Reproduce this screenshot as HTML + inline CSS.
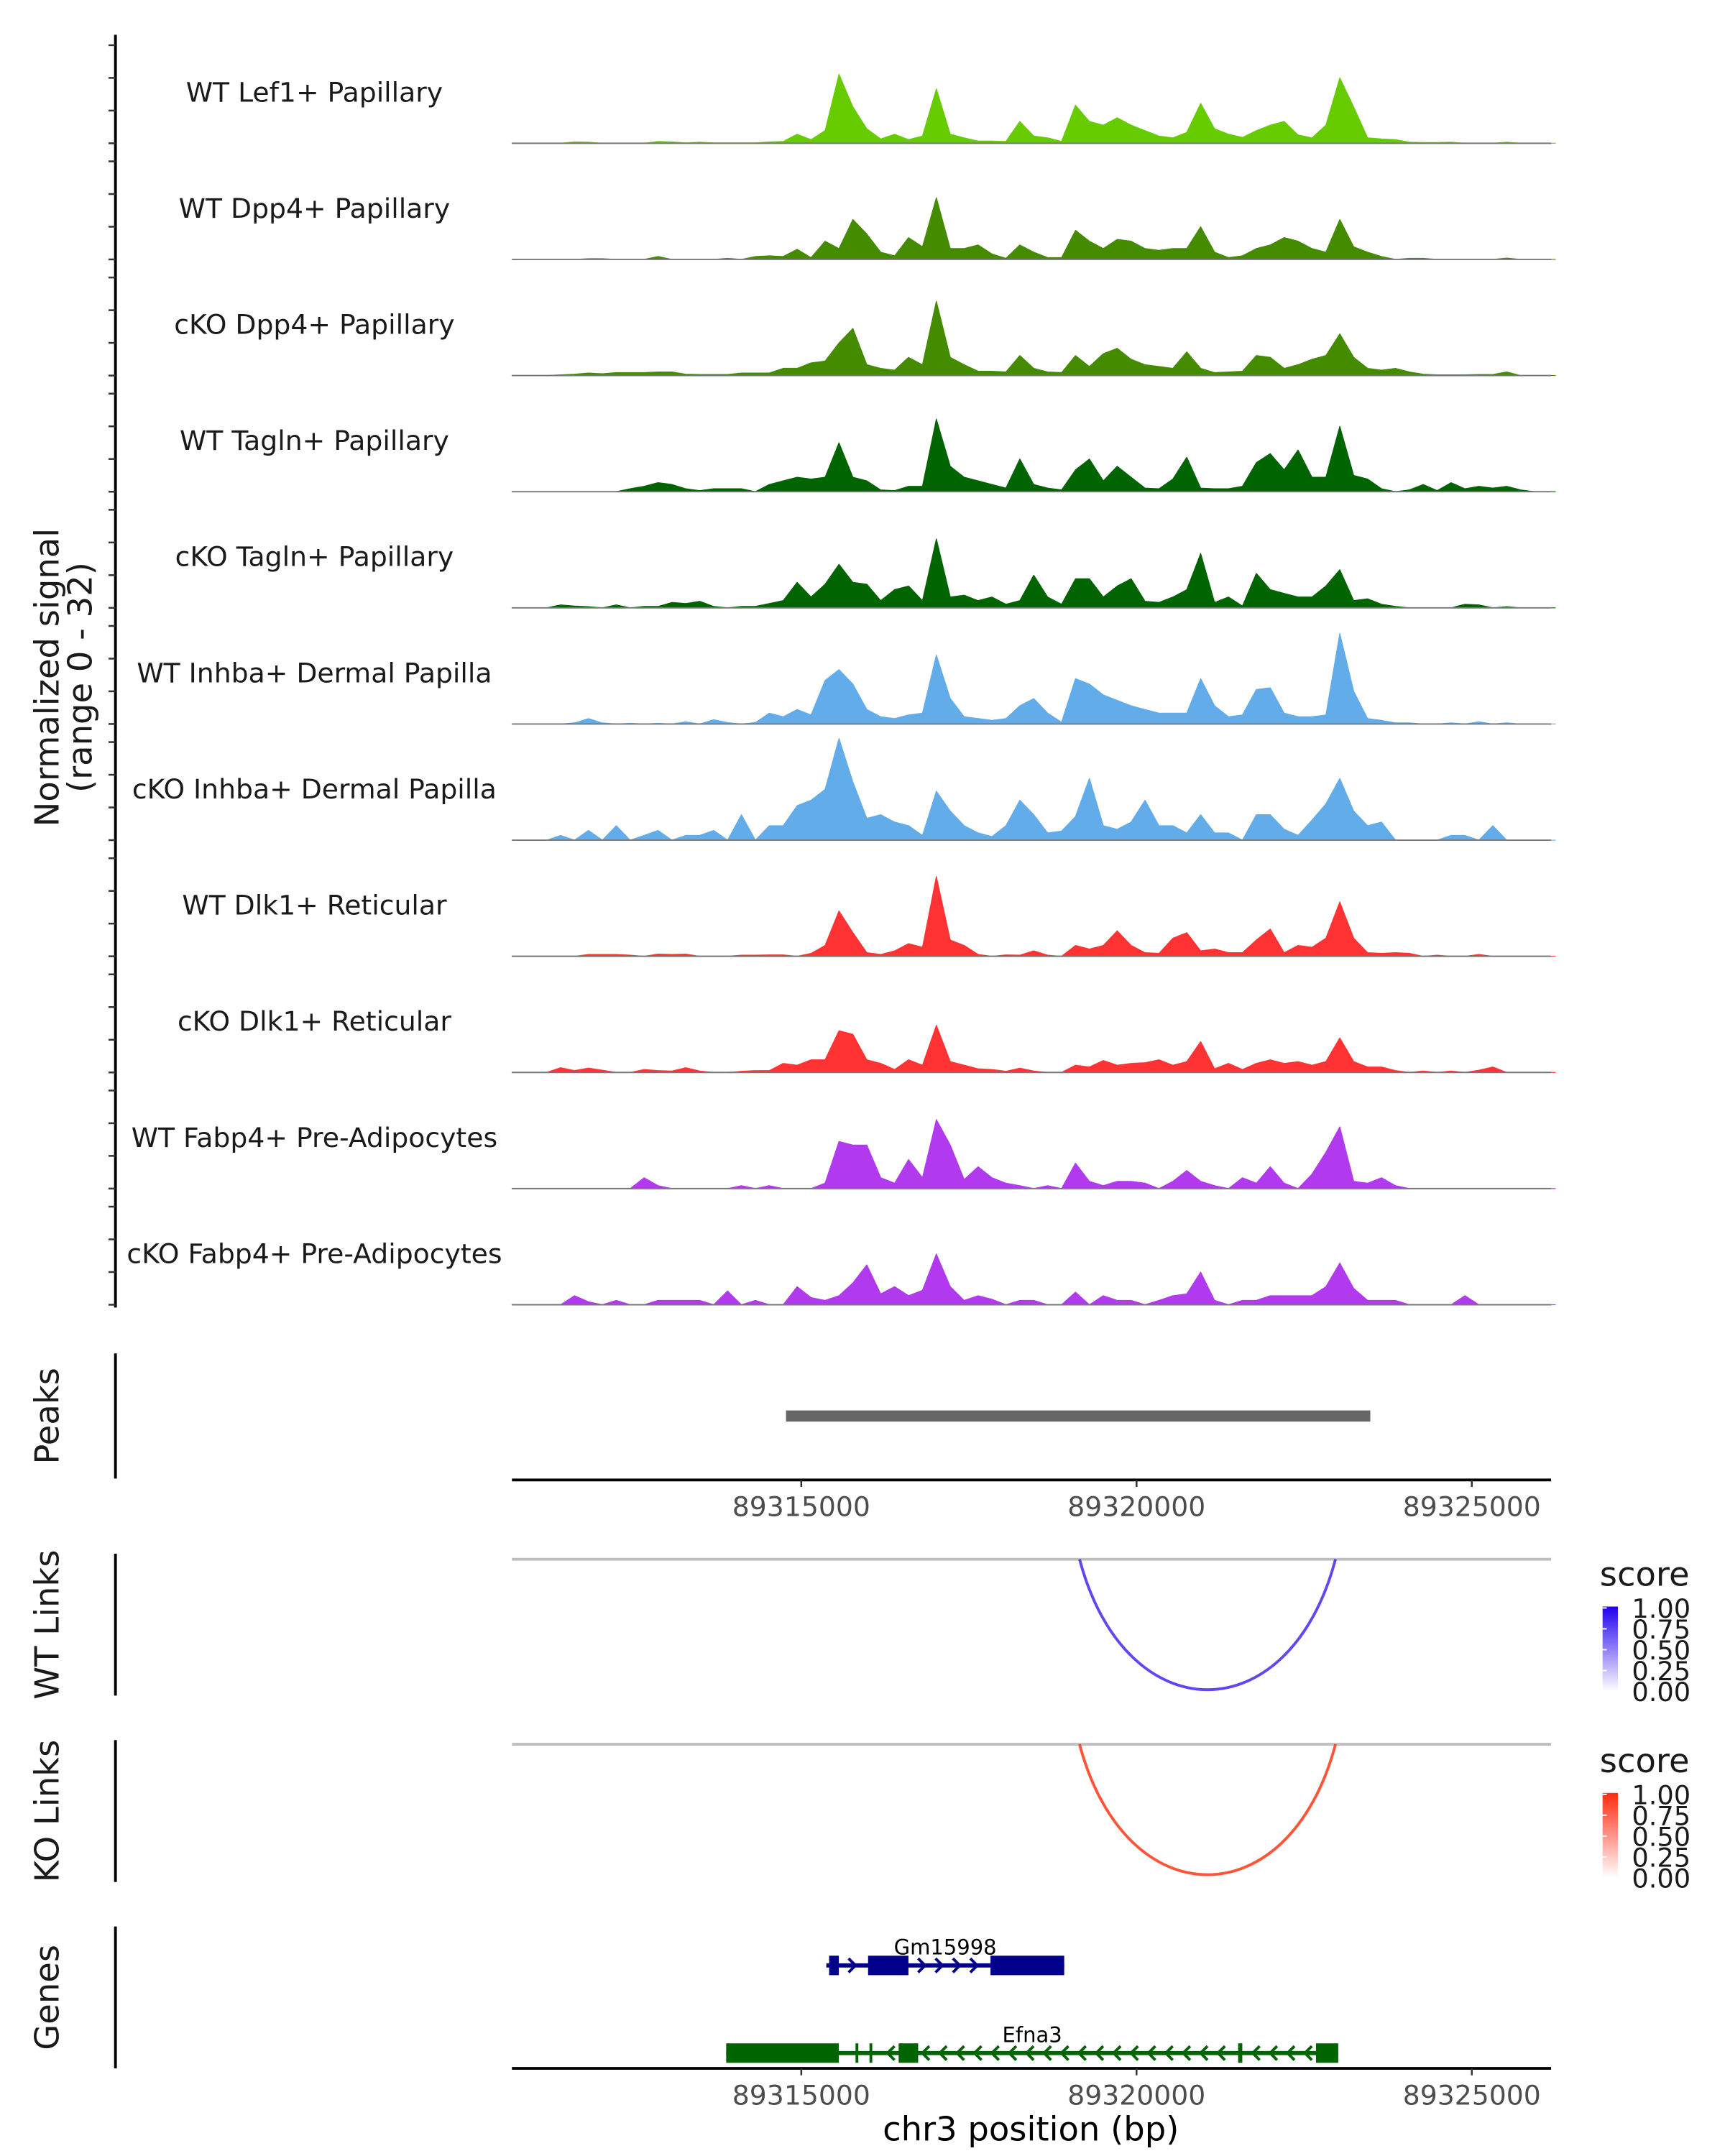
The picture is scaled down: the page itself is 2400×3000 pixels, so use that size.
<!DOCTYPE html>
<html><head><meta charset="utf-8"><style>
html,body{margin:0;padding:0;background:#fff;}
svg{display:block;font-family:"DejaVu Sans","Liberation Sans",sans-serif;}
</style></head><body>
<svg id="chart" xmlns="http://www.w3.org/2000/svg" width="2400" height="3000" viewBox="0 0 1240 1550">
<defs>
<linearGradient id="gBlue" x1="0" y1="1" x2="0" y2="0"><stop offset="0" stop-color="#ffffff"/><stop offset="1" stop-color="#2200ee"/></linearGradient>
<linearGradient id="gRed" x1="0" y1="1" x2="0" y2="0"><stop offset="0" stop-color="#ffffff"/><stop offset="1" stop-color="#ff2a10"/></linearGradient>
</defs>
<g id="tracks"></g>
<g id="static">
<text transform="translate(42,487) rotate(-90)" text-anchor="middle" font-size="24" fill="#1a1a1a">Normalized signal</text>
<text transform="translate(66,487) rotate(-90)" text-anchor="middle" font-size="24" fill="#1a1a1a">(range 0 - 32)</text>
<text transform="translate(42,1018) rotate(-90)" text-anchor="middle" font-size="24" fill="#1a1a1a">Peaks</text>
<text transform="translate(42,1168) rotate(-90)" text-anchor="middle" font-size="24" fill="#1a1a1a">WT Links</text>
<text transform="translate(42,1302) rotate(-90)" text-anchor="middle" font-size="24" fill="#1a1a1a">KO Links</text>
<text transform="translate(42,1436) rotate(-90)" text-anchor="middle" font-size="24" fill="#1a1a1a">Genes</text>
<line x1="83" y1="973" x2="83" y2="1063" stroke="#000" stroke-width="2"/>
<line x1="83" y1="1117" x2="83" y2="1219" stroke="#000" stroke-width="2"/>
<line x1="83" y1="1251" x2="83" y2="1353" stroke="#000" stroke-width="2"/>
<line x1="83" y1="1385" x2="83" y2="1487" stroke="#000" stroke-width="2"/>
<line x1="83" y1="25" x2="83" y2="940" stroke="#000" stroke-width="2"/>
<text x="1150" y="1140" font-size="24" fill="#1a1a1a">score</text>
<rect x="1152" y="1155" width="11" height="61" fill="url(#gBlue)"/>
<text x="1150" y="1274" font-size="24" fill="#1a1a1a">score</text>
<rect x="1152" y="1289" width="11" height="61" fill="url(#gRed)"/>
<text x="741" y="1539" text-anchor="middle" font-size="24" fill="#000">chr3 position (bp)</text>
</g>
</svg>
<script>
const binStart = 89310685;
const binSize = 207.5;
const trackNames = ["WT Lef1+ Papillary","WT Dpp4+ Papillary","cKO Dpp4+ Papillary","WT Tagln+ Papillary","cKO Tagln+ Papillary","WT Inhba+ Dermal Papilla","cKO Inhba+ Dermal Papilla","WT Dlk1+ Reticular","cKO Dlk1+ Reticular","WT Fabp4+ Pre-Adipocytes","cKO Fabp4+ Pre-Adipocytes"];
const trackColors = ["#66cc00","#458b00","#458b00","#006400","#006400","#63acea","#63acea","#ff3333","#ff3333","#b23aee","#b23aee"];
const sigLef1WT = {4:0.4,5:0.3,10:0.5,11:0.4,12:0.1,13:0.3,14:0.1,15:0.1,16:0.1,17:0.1,18:0.4,19:0.5,20:2.5,21:1,22:3.5,23:19,24:10,25:4,26:1.2,27:2.5,28:1,29:2,30:15,31:2.5,32:1.5,33:0.6,34:0.6,35:0.5,36:6,37:2,38:1.5,39:0.5,40:10.5,41:6,42:5,43:7,44:5,45:3.5,46:2,47:1.5,48:3,49:11,50:4,51:2.5,52:1.6,53:3.5,54:5,55:6,56:2.3,57:1.5,58:5,59:18,60:10,61:1.5,62:1.2,63:1,64:0.3,65:0.2,66:0.2,67:0.3,71:0.3};
const sigDpp4WT = {5:0.2,6:0.2,10:0.8,15:0.3,17:0.8,18:1,19:0.8,20:2.8,21:0.5,22:5,23:3,24:11,25:7,26:2,27:1,28:6,29:3.5,30:17,31:3,32:3,33:4,34:1.5,35:0.3,36:4,37:2,38:0.5,39:0.5,40:8,41:5,42:3,43:5.5,44:5,45:3,46:2.5,47:3,48:3,49:9,50:2,51:0.5,52:1,53:3,54:4,55:6,56:5,57:3,58:2,59:11,60:3.5,61:2,62:0.8,64:0.3,65:0.3,71:0.4};
const sigDpp4KO = {3:0.2,4:0.4,5:0.7,6:0.5,7:0.8,8:0.8,9:0.8,10:1,11:1,12:0.4,13:0.3,14:0.3,15:0.3,16:0.7,17:0.7,18:0.7,19:2,20:2,21:3.5,22:4,23:9,24:13,25:3,26:2,27:1.5,28:5,29:3,30:20.5,31:5,32:3,33:1.2,34:1.2,35:1,36:5.5,37:2,38:1,39:0.8,40:5.5,41:2.5,42:6,43:7.5,44:4.5,45:3,46:2.5,47:2,48:6.5,49:2,50:0.8,51:1,52:1.2,53:5.5,54:5,55:2,56:3,57:4.5,58:5.5,59:11.5,60:5,61:2,62:1.5,63:2,64:1,65:0.4,66:0.2,67:0.2,68:0.2,69:0.3,70:0.3,71:1};
const sigTaglnWT = {8:0.8,9:1.5,10:2.5,11:2,12:0.8,13:0.3,14:0.8,15:0.8,16:0.8,18:2,19:3,20:4,21:3.5,22:4,23:13.5,24:4,25:3,26:0.5,27:0.3,28:1.5,29:1.5,30:20,31:7,32:4,33:3,34:2,35:1,36:9,37:2,38:1,39:0.5,40:6,41:9,42:3,43:7,44:4,45:1,46:0.8,47:3.5,48:9.5,49:1,50:0.8,51:0.8,52:1.5,53:8,54:10.5,55:6,56:11.5,57:4,58:4,59:18,60:4.5,61:3.5,62:0.8,64:0.5,65:2,66:0.3,67:2.5,68:0.8,69:1.5,70:1,71:1.5,72:0.5};
const sigTaglnKO = {3:0.8,4:0.5,5:0.3,7:0.8,9:0.4,10:0.4,11:1.5,12:1.2,13:1.8,14:0.4,16:0.4,17:0.4,18:1.2,19:2,20:7,21:3,22:6.5,23:12,24:7,25:6.5,26:2,27:5,28:6,29:2,30:19,31:3,32:3.5,33:2,34:3,35:1,36:2,37:9,38:3,39:1,40:8,41:8,42:3,43:6,44:8,45:1.8,46:1.5,47:3,48:5,49:15,50:1.5,51:3,52:0.5,53:9.5,54:5,55:4,56:3,57:3,58:6,59:10.5,60:2,61:2.5,62:1,63:0.4,68:1,69:0.8,71:0.3};
const sigInhbaWT = {4:0.3,5:1.5,6:0.3,8:0.2,10:0.2,12:0.6,14:1.2,15:0.4,17:0.4,18:3,19:2,20:4,21:2.5,22:12,23:15,24:11,25:4,26:2,27:1.5,28:2.5,29:3,30:19,31:7,32:2,33:1.5,34:1,35:1.5,36:5,37:7,38:3,39:0.5,40:12.5,41:11,42:8,43:6.5,44:5,45:4,46:3,47:3,48:3,49:12.5,50:5,51:2,52:2.5,53:9.5,54:10,55:3,56:2,57:2,58:2.5,59:25,60:9,61:1.5,62:1,63:0.3,64:0.3,67:0.3,69:0.6,71:0.3};
const sigInhbaKO = {3:1.3,5:2.7,7:4,9:1.3,10:2.7,12:1.3,13:1.3,14:2.7,16:7,18:4,19:4,20:9.5,21:11,22:14,23:28,24:16,25:6,26:7,27:5,28:4,29:1.3,30:13.5,31:8,32:4,33:2,34:1,35:4,36:11,37:7,38:2,39:2.5,40:6.5,41:17,42:4,43:3,44:5,45:11,46:4,47:4,48:2,49:7,50:2,51:2,53:7,54:7,55:3,56:1.3,57:5.5,58:10,59:17,60:8,61:4,62:5,67:1.3,68:1.3,70:4};
const sigDlk1WT = {5:0.5,6:0.5,7:0.5,8:0.3,10:0.6,11:0.5,12:0.6,16:0.3,17:0.3,18:0.4,19:0.4,21:0.8,22:3,23:12.5,24:6.5,25:1,26:0.5,27:1.5,28:3.5,29:2.5,30:22,31:4.5,32:3,33:0.5,35:0.4,36:0.3,37:1.5,38:0.3,40:3,41:2,42:3,43:7,44:3,45:1,46:0.8,47:5,48:6.5,49:1.5,50:2,51:1,52:1,53:4.5,54:7.5,55:1,56:3,57:2.5,58:5,59:15,60:5,61:1,62:0.8,63:1,64:0.8,66:0.3,69:0.5};
const sigDlk1KO = {3:1.3,4:0.5,5:1.2,6:0.6,9:0.8,10:0.5,11:0.4,12:1.3,13:0.4,16:0.3,17:0.5,18:0.5,19:2.5,20:2,21:3.5,22:3.5,23:11.5,24:10.5,25:3.5,26:2.5,27:0.8,28:3.5,29:2,30:13,31:3,32:2,33:1,34:0.8,35:0.3,36:1.2,37:0.4,40:2,41:1.5,42:3.3,43:2,44:2.5,45:2.7,46:3.5,47:2,48:3,49:8.5,50:1,51:2.5,52:0.8,53:2.5,54:3.5,55:2.5,56:3,57:2,58:3,59:9.5,60:3,61:1.5,62:1.5,63:0.5,65:0.4,67:0.4,69:0.6,70:1.5};
const sigFabp4WT = {9:3,10:0.8,16:0.8,18:0.8,22:1.5,23:13,24:12,25:12,26:3,27:1.5,28:8,29:3,30:19,31:12,32:2.5,33:6,34:3,35:1.5,36:0.8,38:0.8,40:7,41:2,42:0.8,43:2,44:2,45:1.5,47:2,48:5,49:2,50:0.8,52:3,53:1.5,54:6,55:1.5,57:4,58:10,59:17,60:2,61:1.5,62:3,63:0.8};
const sigFabp4KO = {4:2.5,5:0.8,7:1.2,10:1.2,11:1.2,12:1.2,13:1.2,15:3.8,17:1.2,20:5,21:2,22:1.2,23:2.5,24:6,25:11,26:3,27:5,28:2.5,29:4,30:14,31:5,32:1.2,33:2.5,34:1.5,36:1.2,37:1.2,40:3.5,42:2.5,43:1.2,44:1.2,46:1.2,47:2.5,48:3,49:9,50:1.2,52:1.2,53:1.2,54:2.5,55:2.5,56:2.5,57:2.5,58:5,59:11.5,60:4.5,61:1.2,62:1.2,63:1.2,68:2.5};
const trackSignals = [sigLef1WT,sigDpp4WT,sigDpp4KO,sigTaglnWT,sigTaglnKO,sigInhbaWT,sigInhbaKO,sigDlk1WT,sigDlk1KO,sigFabp4WT,sigFabp4KO];
const nBins = 75;
const xTickValues = [89315000, 89320000, 89325000];
const peakStarts = [89314772];
const peakEnds = [89323486];
const wtLinkStarts = [89319150];
const wtLinkEnds = [89322967];
const wtLinkScores = [0.8];
const koLinkStarts = [89319150];
const koLinkEnds = [89322967];
const koLinkScores = [0.8];
const legendTicks = ["1.00","0.75","0.50","0.25","0.00"];
const gmStart = 89315373, gmEnd = 89318921;
const gmExonStarts = [89315415, 89315996, 89317822];
const gmExonEnds = [89315560, 89316598, 89318921];
const efStart = 89313880, efEnd = 89323008;
const efExonStarts = [89313880, 89315809, 89316017, 89316452, 89321515, 89322676];
const efExonEnds = [89315560, 89315851, 89316058, 89316743, 89321577, 89323008];

const NS = "http://www.w3.org/2000/svg";
const svg = document.getElementById('chart');
const tg = document.getElementById('tracks');
const PX0 = 368, PX1 = 1115;
const xOf = bp => 576 + (bp - 89315000) * (241 / 5000);
const unitPx = 2.61;
function mk(tag, attrs, parent) {
  const e = document.createElementNS(NS, tag);
  for (const k in attrs) e.setAttribute(k, attrs[k]);
  (parent || svg).appendChild(e);
  return e;
}
for (let k = 0; k < trackSignals.length; k++) {
  const base = 103 + k * 83.5;
  const sig = trackSignals[k];
  let d = "M" + xOf(binStart) + "," + base;
  for (let i = 0; i < nBins; i++) {
    const v = sig[i] || 0;
    const cx = xOf(binStart + (i + 0.5) * binSize);
    d += " L" + cx.toFixed(1) + "," + (base - v * unitPx).toFixed(1);
  }
  d += " L" + xOf(binStart + nBins * binSize).toFixed(1) + "," + base + " Z";
  const p = mk('path', {d: d, fill: trackColors[k], stroke: trackColors[k], 'stroke-width': 0.6, 'stroke-linejoin': 'round'}, tg);
  
  
  const bl = mk('line', {x1: PX0, x2: PX1, y1: base, y2: base, stroke: '#777', 'stroke-width': 1}, tg);
  
  
  const lab = mk('text', {x: 226, y: base - 30, 'text-anchor': 'middle', 'font-size': 19.5, fill: '#1a1a1a'}, tg);
  lab.textContent = trackNames[k];
  
  
  for (let t = 0; t < 4; t++) {
    const ty = base - t * 23.5;
    const tk = mk('line', {x1: 78, x2: 83, y1: ty, y2: ty, stroke: '#333', 'stroke-width': 1.3});
    
    
  }
}
for (let i = 0; i < peakStarts.length; i++) {
  const r = mk('rect', {x: xOf(peakStarts[i]), y: 1014, width: xOf(peakEnds[i]) - xOf(peakStarts[i]), height: 8, fill: '#666'});
  
  
}
function xAxis(y, name) {
  const l = mk('line', {x1: PX0, x2: PX1, y1: y, y2: y, stroke: '#000', 'stroke-width': 2});
  
  
  xTickValues.forEach(v => {
    const t = mk('line', {x1: xOf(v), x2: xOf(v), y1: y, y2: y + 5, stroke: '#333', 'stroke-width': 1.3});
    
    
    const tx = mk('text', {x: xOf(v), y: y + 26, 'text-anchor': 'middle', 'font-size': 19.5, fill: '#4d4d4d'});
    tx.textContent = String(v);
    
    
  });
}
xAxis(1064, 'peaks-x-axis');
xAxis(1487, 'x-axis');
function links(base, starts, ends, scores, color, name) {
  const gl = mk('line', {x1: PX0, x2: PX1, y1: base, y2: base, stroke: '#bebebe', 'stroke-width': 2});
  
  
  for (let i = 0; i < starts.length; i++) {
    const x0 = xOf(starts[i]), x1 = xOf(ends[i]);
    const depth = 94;
    const p = mk('path', {d: `M${x0},${base} C${x0 + (x1 - x0) * 0.18},${base + depth * 1.33} ${x1 - (x1 - x0) * 0.18},${base + depth * 1.33} ${x1},${base}`, fill: 'none', stroke: color, 'stroke-width': 2, 'stroke-opacity': 0.2 + 0.8 * scores[i]});
    
    
  }
}
links(1121, wtLinkStarts, wtLinkEnds, wtLinkScores, '#4422ee', 'wt-link');
links(1254, koLinkStarts, koLinkEnds, koLinkScores, '#ff3311', 'ko-link');
[[1155, 'wt'], [1289, 'ko']].forEach(([y0, nm]) => {
  legendTicks.forEach((t, i) => {
    const ty = y0 + 1 + i * 15;
    const tx = mk('text', {x: 1173, y: ty + 7, 'font-size': 19, fill: '#1a1a1a'});
    tx.textContent = t;
    
    
    const tk = mk('line', {x1: 1152, x2: 1155, y1: ty, y2: ty, stroke: '#fff', 'stroke-width': 1});
    
    
  });
});
function gene(y, start, end, es, ee, color, dir, label, name) {
  const ln = mk('line', {x1: xOf(start), x2: xOf(end), y1: y, y2: y, stroke: color, 'stroke-width': 3});
  
  
  for (let x = xOf(start) + 6; x < xOf(end) - 4; x += 12.5) {
    const inEx = es.some((s, i) => x > xOf(s) - 3 && x < xOf(ee[i]) + 3);
    if (inEx) continue;
    const a = dir > 0 ? `M${x - 2.5},${y - 5} L${x + 2.5},${y} L${x - 2.5},${y + 5}` : `M${x + 2.5},${y - 5} L${x - 2.5},${y} L${x + 2.5},${y + 5}`;
    const ar = mk('path', {d: a, fill: 'none', stroke: color, 'stroke-width': 2});
    
    
  }
  es.forEach((s, i) => {
    const r = mk('rect', {x: xOf(s), y: y - 7, width: Math.max(2, xOf(ee[i]) - xOf(s)), height: 14, fill: color});
    
    
  });
  const t = mk('text', {x: (xOf(start) + xOf(end)) / 2, y: y - 8, 'text-anchor': 'middle', 'font-size': 15, fill: '#000'});
  t.textContent = label;
  
  
}
gene(1413, gmStart, gmEnd, gmExonStarts, gmExonEnds, '#00008b', 1, 'Gm15998', 'gm15998');
gene(1476, efStart, efEnd, efExonStarts, efExonEnds, '#006400', -1, 'Efna3', 'efna3');
</script>
</body></html>
